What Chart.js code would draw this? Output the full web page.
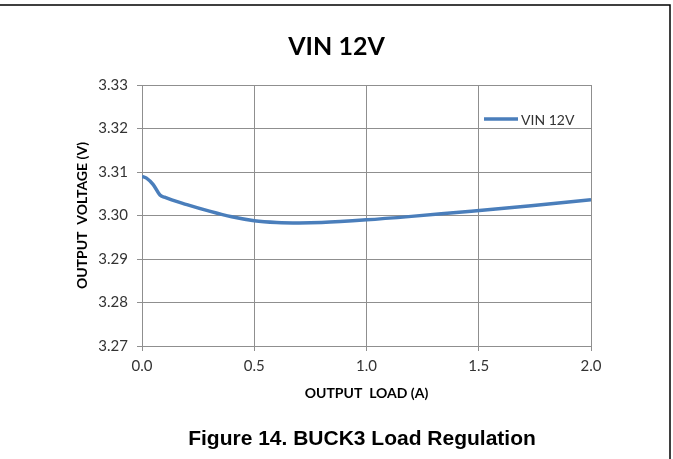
<!DOCTYPE html>
<html>
<head>
<meta charset="utf-8">
<script src="https://cdn.jsdelivr.net/npm/chart.js@4.4.1/dist/chart.umd.min.js"></script>
<style>
  html, body { margin: 0; padding: 0; background: #fff; }
  #wrap { width: 673px; height: 459px; position: relative; }
</style>
</head>
<body>
<div id="wrap"><canvas id="myChart" width="673" height="459"></canvas></div>
<script>
// load (A) and output voltage (V)
const loadA = [0, 0.02, 0.05, 0.08, 0.1, 0.2, 0.3, 0.4, 0.5, 0.6, 0.7, 0.8, 1.0, 1.2, 1.4, 1.6, 1.8, 2.0];
const voutV = [3.3090, 3.3086, 3.3071, 3.3047, 3.3042, 3.3025, 3.3010, 3.2997, 3.2988, 3.2984, 3.2983, 3.2984, 3.2990, 3.2998, 3.3007, 3.3016, 3.3026, 3.3036];
const seriesName = 'VIN 12V';
const chartTitle = 'VIN 12V';
const xTitle = 'OUTPUT  LOAD (A)';
const yTitle = 'OUTPUT  VOLTAGE (V)';
const caption = 'Figure 14. BUCK3 Load Regulation';
const xTicks = [0, 0.5, 1.0, 1.5, 2.0];
const yTicks = [3.27, 3.28, 3.29, 3.30, 3.31, 3.32, 3.33];

const lineColor = '#4a7ebb';
const gridColor = '#8f8f8f';
const tickColor = '#333';

// legend, caption and the page frame
const extras = {
    id: 'extras',
    afterDraw(chart) {
        const ctx = chart.ctx;
        const area = chart.chartArea;
        ctx.save();

        // legend inside the plot, top right
        const lx = area.right - 107;
        const ly = area.top + 34;
        ctx.strokeStyle = lineColor;
        ctx.lineWidth = 3.5;
        ctx.beginPath();
        ctx.moveTo(lx, ly);
        ctx.lineTo(lx + 34, ly);
        ctx.stroke();
        ctx.fillStyle = '#333';
        ctx.font = '14px Lato';
        ctx.textBaseline = 'middle';
        ctx.textAlign = 'left';
        ctx.fillText(seriesName, lx + 37, ly + 1);

        // figure caption
        ctx.fillStyle = '#000';
        ctx.font = 'bold 21px "Liberation Sans"';
        ctx.textAlign = 'center';
        ctx.textBaseline = 'alphabetic';
        ctx.fillText(caption, 362, 445);

        // frame
        ctx.strokeStyle = '#000';
        ctx.lineWidth = 1.5;
        ctx.beginPath();
        ctx.moveTo(0, 5);
        ctx.lineTo(670, 5);
        ctx.lineTo(670, 459);
        ctx.stroke();
        ctx.restore();
    }
};

const ctx = document.getElementById('myChart').getContext('2d');
const myChart = new Chart(ctx, {
    type: 'line',
    data: {
        datasets: [{
            label: seriesName,
            data: loadA.map((x, i) => ({ x: x, y: voutV[i] })),
            borderColor: lineColor,
            borderWidth: 3.5,
            pointRadius: 0,
            cubicInterpolationMode: 'monotone',
            fill: false
        }]
    },
    plugins: [extras],
    options: {
        responsive: false,
        animation: false,
        layout: { padding: 0 },
        plugins: {
            legend: { display: false },
            tooltip: { enabled: false },
            title: {
                display: true,
                text: chartTitle,
                color: '#000',
                font: { family: 'Lato', size: 25, weight: 'bold' },
                padding: { top: 32, bottom: 23 }
            }
        },
        scales: {
            x: {
                type: 'linear',
                min: xTicks[0],
                max: xTicks[xTicks.length - 1],
                afterBuildTicks: s => { s.ticks = xTicks.map(v => ({ value: v })); },
                afterFit: s => { s.height = 113; },
                ticks: {
                    color: tickColor,
                    font: { family: 'Lato', size: 15 },
                    padding: 6,
                    maxRotation: 0,
                    callback: v => v.toFixed(1)
                },
                grid: { color: gridColor, tickLength: 5 },
                border: { color: gridColor },
                title: {
                    display: true,
                    text: xTitle,
                    color: '#000',
                    font: { family: 'Lato', size: 14, weight: 'bold' },
                    padding: { bottom: 57 }
                }
            },
            y: {
                min: yTicks[0],
                max: yTicks[yTicks.length - 1],
                afterBuildTicks: s => { s.ticks = yTicks.map(v => ({ value: v })); },
                afterFit: s => { s.width = 142; },
                ticks: {
                    color: tickColor,
                    font: { family: 'Lato', size: 15 },
                    padding: 9,
                    callback: v => v.toFixed(2)
                },
                grid: { color: gridColor, tickLength: 5 },
                border: { color: gridColor },
                title: {
                    display: true,
                    text: yTitle,
                    color: '#000',
                    font: { family: 'Lato', size: 14, weight: 'bold' },
                    padding: { top: 74 }
                }
            },
            // empty right axis, only reserves the space right of the plot
            r: {
                position: 'right',
                min: 0,
                max: 1,
                afterFit: s => { s.width = 82; },
                ticks: { display: false },
                grid: { display: false },
                border: { display: false }
            }
        }
    }
});
</script>
</body>
</html>
